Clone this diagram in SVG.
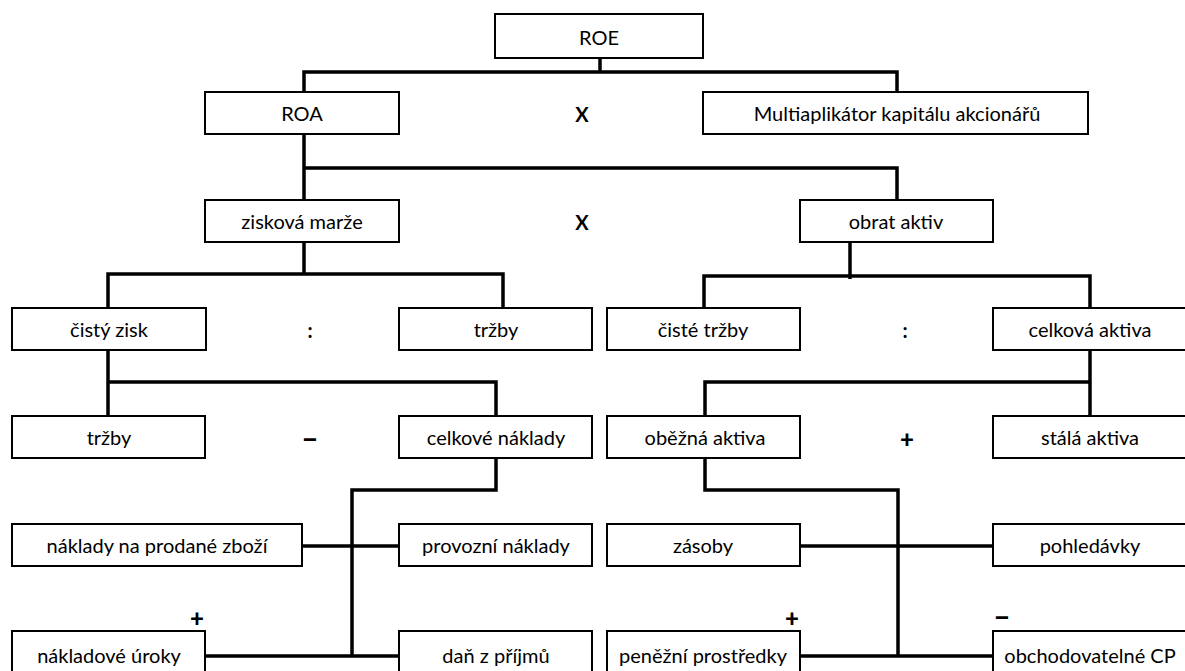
<svg xmlns="http://www.w3.org/2000/svg" width="1185" height="671" viewBox="0 0 1185 671">
<style>
.b{fill:#fff;stroke:#000;stroke-width:2}
.t{font-family:Lato,"Liberation Sans",Arial,sans-serif;font-size:20px;fill:#000;text-anchor:middle;dominant-baseline:central}
.o{font-family:Lato,"Liberation Sans",Arial,sans-serif;font-size:20px;font-weight:bold;fill:#000;text-anchor:middle;dominant-baseline:central}
.p{font-family:Lato,"Liberation Sans",Arial,sans-serif;font-size:24px;font-weight:900;fill:#000;text-anchor:middle;dominant-baseline:central}
.d{font-family:Lato,"Liberation Sans",Arial,sans-serif;font-size:30px;font-weight:bold;fill:#000;text-anchor:middle;dominant-baseline:central}
.c{fill:none;stroke:#000;stroke-width:3.5}
</style>
<rect width="1185" height="671" fill="#fff"/>
<g id="connectors">
<path class="c" d="M600 58V72M304 92V72H897V92"/>
<path class="c" d="M304 134V200M304 168H897V200"/>
<path class="c" d="M304 242V274M108 308V274H503V308"/>
<path class="c" d="M850 242V279M704 308V276H1090V308"/>
<path class="c" d="M108 350V416M108 382H496V416"/>
<path class="c" d="M1090 350V416M705 416V382H1090"/>
<path class="c" d="M496 458V490H352V656M302 546H399M205 656H399"/>
<path class="c" d="M705 458V490H898V656M800 546H993M800 656H993"/>
</g>
<g id="roe"><rect class="b" x="495" y="14" width="208" height="44"/><text class="t" x="599" y="37">ROE</text></g>
<g id="roa"><rect class="b" x="205" y="92" width="194" height="42"/><text class="t" x="302" y="113">ROA</text></g>
<g id="op1"><text class="o" x="582" y="114">X</text></g>
<g id="multi"><rect class="b" x="703" y="92" width="385" height="42"/><text class="t" x="897" y="113">Multiaplikátor kapitálu akcionářů</text></g>
<g id="marze"><rect class="b" x="205" y="200" width="194" height="42"/><text class="t" x="302" y="221">zisková marže</text></g>
<g id="op2"><text class="o" x="582" y="222">X</text></g>
<g id="obrat"><rect class="b" x="800" y="200" width="193" height="42"/><text class="t" x="896" y="221">obrat aktiv</text></g>
<g id="cistyzisk"><rect class="b" x="12" y="308" width="194" height="42"/><text class="t" x="109" y="329">čistý zisk</text></g>
<g id="op3"><text class="o" x="310" y="330">:</text></g>
<g id="trzby1"><rect class="b" x="399" y="308" width="193" height="42"/><text class="t" x="496" y="329">tržby</text></g>
<g id="cistetrzby"><rect class="b" x="607" y="308" width="193" height="42"/><text class="t" x="703" y="329">čisté tržby</text></g>
<g id="op4"><text class="o" x="905" y="330">:</text></g>
<g id="celkaktiva"><rect class="b" x="993" y="308" width="194" height="42"/><text class="t" x="1090" y="329">celková aktiva</text></g>
<g id="trzby2"><rect class="b" x="12" y="416" width="193" height="42"/><text class="t" x="109" y="437">tržby</text></g>
<g id="op5"><text class="d" x="310" y="437">–</text></g>
<g id="celknaklady"><rect class="b" x="399" y="416" width="193" height="42"/><text class="t" x="496" y="437">celkové náklady</text></g>
<g id="obeznaaktiva"><rect class="b" x="607" y="416" width="193" height="42"/><text class="t" x="705" y="437">oběžná aktiva</text></g>
<g id="op6"><text class="p" x="907" y="438">+</text></g>
<g id="stalaaktiva"><rect class="b" x="993" y="416" width="194" height="42"/><text class="t" x="1090" y="437">stálá aktiva</text></g>
<g id="npz"><rect class="b" x="12" y="524" width="290" height="42"/><text class="t" x="157" y="545">náklady na prodané zboží</text></g>
<g id="provozni"><rect class="b" x="399" y="524" width="193" height="42"/><text class="t" x="496" y="545">provozní náklady</text></g>
<g id="zasoby"><rect class="b" x="607" y="524" width="193" height="42"/><text class="t" x="703" y="545">zásoby</text></g>
<g id="pohledavky"><rect class="b" x="993" y="524" width="194" height="42"/><text class="t" x="1090" y="545">pohledávky</text></g>
<g id="op7"><text class="p" x="197" y="617">+</text></g>
<g id="uroky"><rect class="b" x="12" y="631" width="193" height="50"/><text class="t" x="109" y="655">nákladové úroky</text></g>
<g id="dan"><rect class="b" x="399" y="631" width="193" height="50"/><text class="t" x="496" y="655">daň z příjmů</text></g>
<g id="op8"><text class="p" x="792" y="617">+</text></g>
<g id="penezni"><rect class="b" x="607" y="631" width="193" height="50"/><text class="t" x="703" y="655">peněžní prostředky</text></g>
<g id="op9"><text class="d" x="1002" y="615">–</text></g>
<g id="cp"><rect class="b" x="993" y="631" width="194" height="50"/><text class="t" x="1090" y="655">obchodovatelné CP</text></g>
</svg>
